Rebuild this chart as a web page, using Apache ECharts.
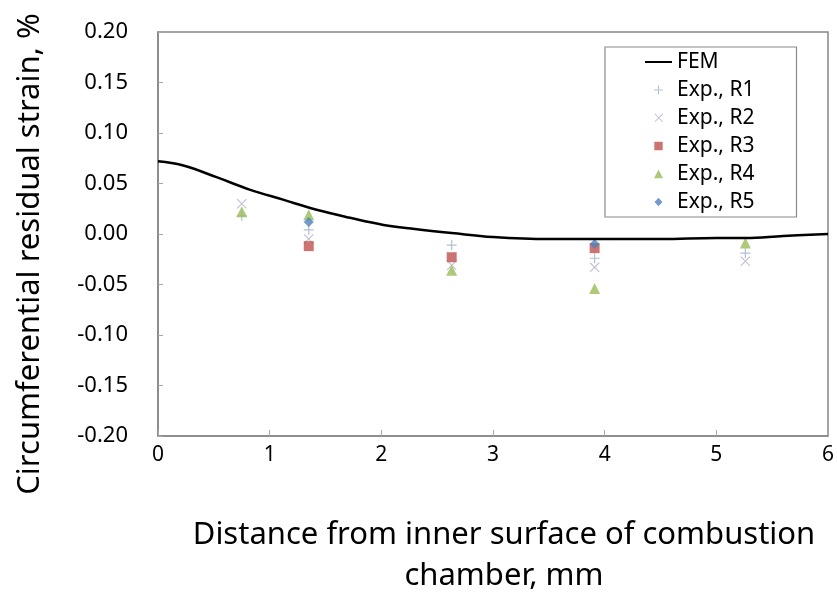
<!DOCTYPE html>
<html><head><meta charset="utf-8">
<script src="https://cdn.jsdelivr.net/npm/echarts@6/dist/echarts.min.js"></script>
<style>html,body{margin:0;padding:0;background:#fff}#c{width:837px;height:599px}</style>
</head><body><div id="c"></div>
<script>
// FEM curve
const femX = [0, 0.22, 0.53, 0.82, 1.12, 1.42, 1.72, 2.02, 2.3, 2.63, 3.0, 3.5, 3.9, 4.5, 5.0, 5.26, 5.6, 6.0];
const femY = [0.072, 0.068, 0.056, 0.044, 0.034, 0.024, 0.016, 0.009, 0.005, 0.001, -0.003, -0.005, -0.005, -0.005, -0.004, -0.004, -0.002, 0.000];
// Experimental points
const r1X = [0.75, 1.35, 2.63, 3.91, 5.26];
const r1Y = [0.018, 0.004, -0.011, -0.024, -0.019];
const r2X = [0.75, 1.35, 2.63, 3.91, 5.26];
const r2Y = [0.030, -0.005, -0.031, -0.033, -0.027];
const r3X = [1.35, 2.63, 3.91];
const r3Y = [-0.012, -0.023, -0.014];
const r4X = [0.75, 1.35, 2.63, 3.91, 5.26];
const r4Y = [0.022, 0.019, -0.036, -0.054, -0.009];
const r5X = [1.35, 3.91];
const r5Y = [0.012, -0.010];
const seriesNames = ['FEM', 'Exp., R1', 'Exp., R2', 'Exp., R3', 'Exp., R4', 'Exp., R5'];
const xTicks = [0, 1, 2, 3, 4, 5, 6];
const yTicks = [-0.20, -0.15, -0.10, -0.05, 0.00, 0.05, 0.10, 0.15, 0.20];

const zip = (xs, ys) => xs.map((x, i) => [x, ys[i]]);
const FONT = 'Noto Sans';
const plusPath = 'path://M4.4,0H5.6V10H4.4Z M0,4.4H10V5.6H0Z';
const crossPath = 'path://M0,0.8L0.8,0L10,9.2L9.2,10Z M9.2,0L10,0.8L0.8,10L0,9.2Z';
// legend icons, drawn in a 27x10 box
const BOX = ' M0,0L0,0Z M27,10L27,10Z';
const lgLine = 'path://M0,3.9H27V6.1H0Z' + BOX;
const lgPlus = 'path://M13,0.5H14V9.5H13Z M9,4.5H18V5.5H9Z' + BOX;
const lgCross = 'path://M9.5,1.3L10.2,0.6L18,8.4L17.3,9.1Z M17.3,0.6L18,1.3L10.2,9.1L9.5,8.4Z' + BOX;
const lgRect = 'path://M9.3,0.8H17.7V9.2H9.3Z' + BOX;
const lgTri = 'path://M13.5,0.4L18,9.2L9,9.2Z' + BOX;
const lgDia = 'path://M13.5,0.8L17.5,5L13.5,9.2L9.5,5Z' + BOX;

const chart = echarts.init(document.getElementById('c'), null, {renderer: 'canvas'});
chart.setOption({
  animation: false,
  backgroundColor: '#fff',
  grid: {left: 158, right: 9, top: 32, bottom: 163, show: true, borderColor: '#868686', borderWidth: 1.5, backgroundColor: 'transparent'},
  xAxis: {
    type: 'value', min: 0, max: 6, interval: 1,
    axisLine: {show: true, onZero: false, lineStyle: {color: '#868686', width: 1.5}},
    axisTick: {show: true, inside: true, length: 6, lineStyle: {color: '#a8a8a8'}},
    axisLabel: {color: '#000', fontFamily: FONT, fontSize: 21, margin: 9, formatter: v => xTicks.includes(v) ? String(v) : ''},
    splitLine: {show: false}
  },
  yAxis: {
    type: 'value', min: -0.2, max: 0.2, interval: 0.05,
    axisLine: {show: true, lineStyle: {color: '#868686', width: 1.5}},
    axisTick: {show: true, inside: true, length: 5, lineStyle: {color: '#a8a8a8'}},
    axisLabel: {color: '#000', fontFamily: FONT, fontSize: 22, margin: 30, formatter: v => { const t = yTicks.find(y => Math.abs(y - v) < 1e-9); return t === undefined ? '' : t.toFixed(2); }},
    splitLine: {show: false}
  },
  legend: {
    orient: 'vertical', left: 605, top: 47,
    padding: [3, 42, 3, 40],
    itemGap: 4, itemWidth: 27, itemHeight: 10,
    borderColor: '#8a8a8a', borderWidth: 1.2, backgroundColor: '#fff',
    textStyle: {fontFamily: FONT, fontSize: 21, lineHeight: 24, color: '#000'},
    data: [
      {name: seriesNames[0], icon: lgLine, itemStyle: {color: '#000'}},
      {name: seriesNames[1], icon: lgPlus, itemStyle: {color: '#9db0cc'}},
      {name: seriesNames[2], icon: lgCross, itemStyle: {color: '#b4aecb'}},
      {name: seriesNames[3], icon: lgRect},
      {name: seriesNames[4], icon: lgTri},
      {name: seriesNames[5], icon: lgDia}
    ]
  },
  graphic: [
    {type: 'text', x: 30, y: 254, rotation: Math.PI / 2, style: {text: 'Circumferential residual strain, %', font: '31px "Noto Sans"', fill: '#000', align: 'center', verticalAlign: 'middle'}},
    {type: 'text', x: 504, y: 556, style: {text: 'Distance from inner surface of combustion\nchamber, mm', font: '31px "Noto Sans"', lineHeight: 41, fill: '#000', align: 'center', verticalAlign: 'middle'}}
  ],
  series: [
    {name: seriesNames[0], type: 'line', data: zip(femX, femY), smooth: 0.4, symbol: 'none', lineStyle: {color: '#000', width: 2.5}, itemStyle: {color: '#000'}, z: 3},
    {name: seriesNames[1], type: 'scatter', data: zip(r1X, r1Y), symbol: plusPath, symbolSize: 10, itemStyle: {color: '#9db0cc'}},
    {name: seriesNames[2], type: 'scatter', data: zip(r2X, r2Y), symbol: crossPath, symbolSize: 10, itemStyle: {color: '#b4aecb'}},
    {name: seriesNames[3], type: 'scatter', data: zip(r3X, r3Y), symbol: 'rect', symbolSize: 10, itemStyle: {color: '#c0504d'}},
    {name: seriesNames[4], type: 'scatter', data: zip(r4X, r4Y), symbol: 'triangle', symbolSize: 11, itemStyle: {color: '#9bbb59'}},
    {name: seriesNames[5], type: 'scatter', data: zip(r5X, r5Y), symbol: 'diamond', symbolSize: 10, itemStyle: {color: '#4f81bd'}}
  ]
});
</script></body></html>
